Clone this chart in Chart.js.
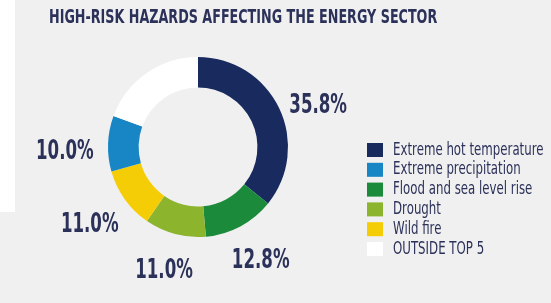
<!DOCTYPE html>
<html>
<head>
<meta charset="utf-8">
<script src="https://cdn.jsdelivr.net/npm/chart.js@4.4.1/dist/chart.umd.min.js"></script>
<style>
    html, body { margin: 0; padding: 0; background: #f0f0f0; }
    body { width: 551px; height: 303px; position: relative; overflow: hidden; }
    .strip { position: absolute; left: 0; top: 0; width: 15px; height: 212px; background: #ffffff; }
    canvas { position: absolute; left: 0; top: 0; }
</style>
</head>
<body>
<div class="strip"></div>
<canvas id="hazardChart" width="551" height="303"></canvas>
<script>
const titleText = 'HIGH-RISK HAZARDS AFFECTING THE ENERGY SECTOR';

// slice order, clockwise from 12 o'clock
const hazards = ['Extreme hot temperature', 'Flood and sea level rise', 'Drought', 'Wild fire', 'Extreme precipitation', 'OUTSIDE TOP 5'];
const shares = [35.8, 12.8, 11.0, 11.0, 10.0, 19.4];
const sliceColors = ['#182a5e', '#1b8a3a', '#8cb42d', '#f5cd06', '#1886c4', '#ffffff'];
const showLabel = [true, true, true, true, true, false];

// legend order as printed on the right
const legendOrder = ['Extreme hot temperature', 'Extreme precipitation', 'Flood and sea level rise', 'Drought', 'Wild fire', 'OUTSIDE TOP 5'];

const TEXT_COLOR = '#2b3159';
const FONT = "'DejaVu Sans', sans-serif";

// draws text squeezed horizontally to mimic the condensed typeface
function drawNarrow(ctx, text, x, y, font, squeeze, align) {
    ctx.save();
    ctx.translate(x, y);
    ctx.scale(squeeze, 1);
    ctx.font = font;
    ctx.textAlign = align;
    ctx.textBaseline = 'middle';
    ctx.fillStyle = TEXT_COLOR;
    ctx.fillText(text, 0, 0);
    ctx.restore();
}

const decorations = {
    id: 'decorations',
    afterDatasetsDraw(chart) {
        const ctx = chart.ctx;
        const meta = chart.getDatasetMeta(0);

        // percentage labels on an oval around the ring, a bit below centre
        meta.data.forEach((arc, i) => {
            if (!showLabel[i]) return;
            const mid = (arc.startAngle + arc.endAngle) / 2;
            const R = arc.outerRadius;
            const x = arc.x + Math.cos(mid) * R * 1.48;
            const y = arc.y + R * 0.11 + Math.sin(mid) * R * 1.31;
            drawNarrow(ctx, shares[i].toFixed(1) + '%', x, y, 'bold 26px ' + FONT, 0.64, 'center');
        });

        // title
        drawNarrow(ctx, titleText, 49, 18, 'bold 19px ' + FONT, 0.67, 'left');

        // legend
        const lx = 367, ly = 150, rowH = 19.8;
        legendOrder.forEach((name, k) => {
            const idx = hazards.indexOf(name);
            const y = ly + k * rowH;
            ctx.fillStyle = sliceColors[idx];
            ctx.fillRect(lx, y - 7, 16, 14);
            drawNarrow(ctx, name, lx + 26, y, '18px ' + FONT, 0.655, 'left');
        });
    }
};

new Chart(document.getElementById('hazardChart'), {
    type: 'doughnut',
    data: {
        labels: hazards,
        datasets: [{
            data: shares,
            backgroundColor: sliceColors,
            borderWidth: 0,
            hoverOffset: 0
        }]
    },
    options: {
        responsive: false,
        animation: false,
        cutout: '66%',
        rotation: 0,
        layout: { padding: { left: 108, top: 57, right: 263, bottom: 66 } },
        plugins: {
            legend: { display: false },
            title: { display: false },
            tooltip: { enabled: false }
        }
    },
    plugins: [decorations]
});
</script>
</body>
</html>
